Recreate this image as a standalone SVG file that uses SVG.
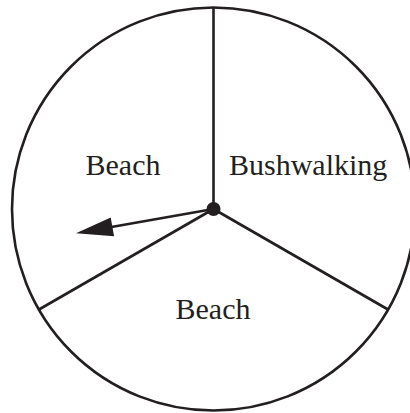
<svg xmlns="http://www.w3.org/2000/svg" width="410" height="413" viewBox="0 0 410 413">
<style>
.ln{stroke:#231f20;stroke-width:2.6;fill:none}
.lbl{font-family:"Liberation Serif","Times New Roman",serif;font-size:30px;fill:#231f20}
</style>
<rect width="410" height="413" fill="#fff"/>
<g id="spinner">
<circle class="ln" cx="213.5" cy="209" r="201.5"/>
</g>
<g id="connectors">
<line class="ln" x1="213.5" y1="209" x2="213.5" y2="7.5"/>
<line class="ln" x1="213.5" y1="209" x2="39" y2="309.5"/>
<line class="ln" x1="213.5" y1="209" x2="388" y2="309.5"/>
<line class="ln" x1="213.5" y1="209" x2="110" y2="227.3"/>
<polygon points="76,233.3 114.1,236.2 110.7,217.4" fill="#231f20"/>
<circle cx="213.5" cy="209" r="7" fill="#231f20"/>
</g>
<g id="label-beach-left"><text class="lbl" x="85.5" y="174.5">Beach</text></g>
<g id="label-bushwalking"><text class="lbl" x="229" y="174.5">Bushwalking</text></g>
<g id="label-beach-bottom"><text class="lbl" x="175.5" y="318.5">Beach</text></g>
</svg>
